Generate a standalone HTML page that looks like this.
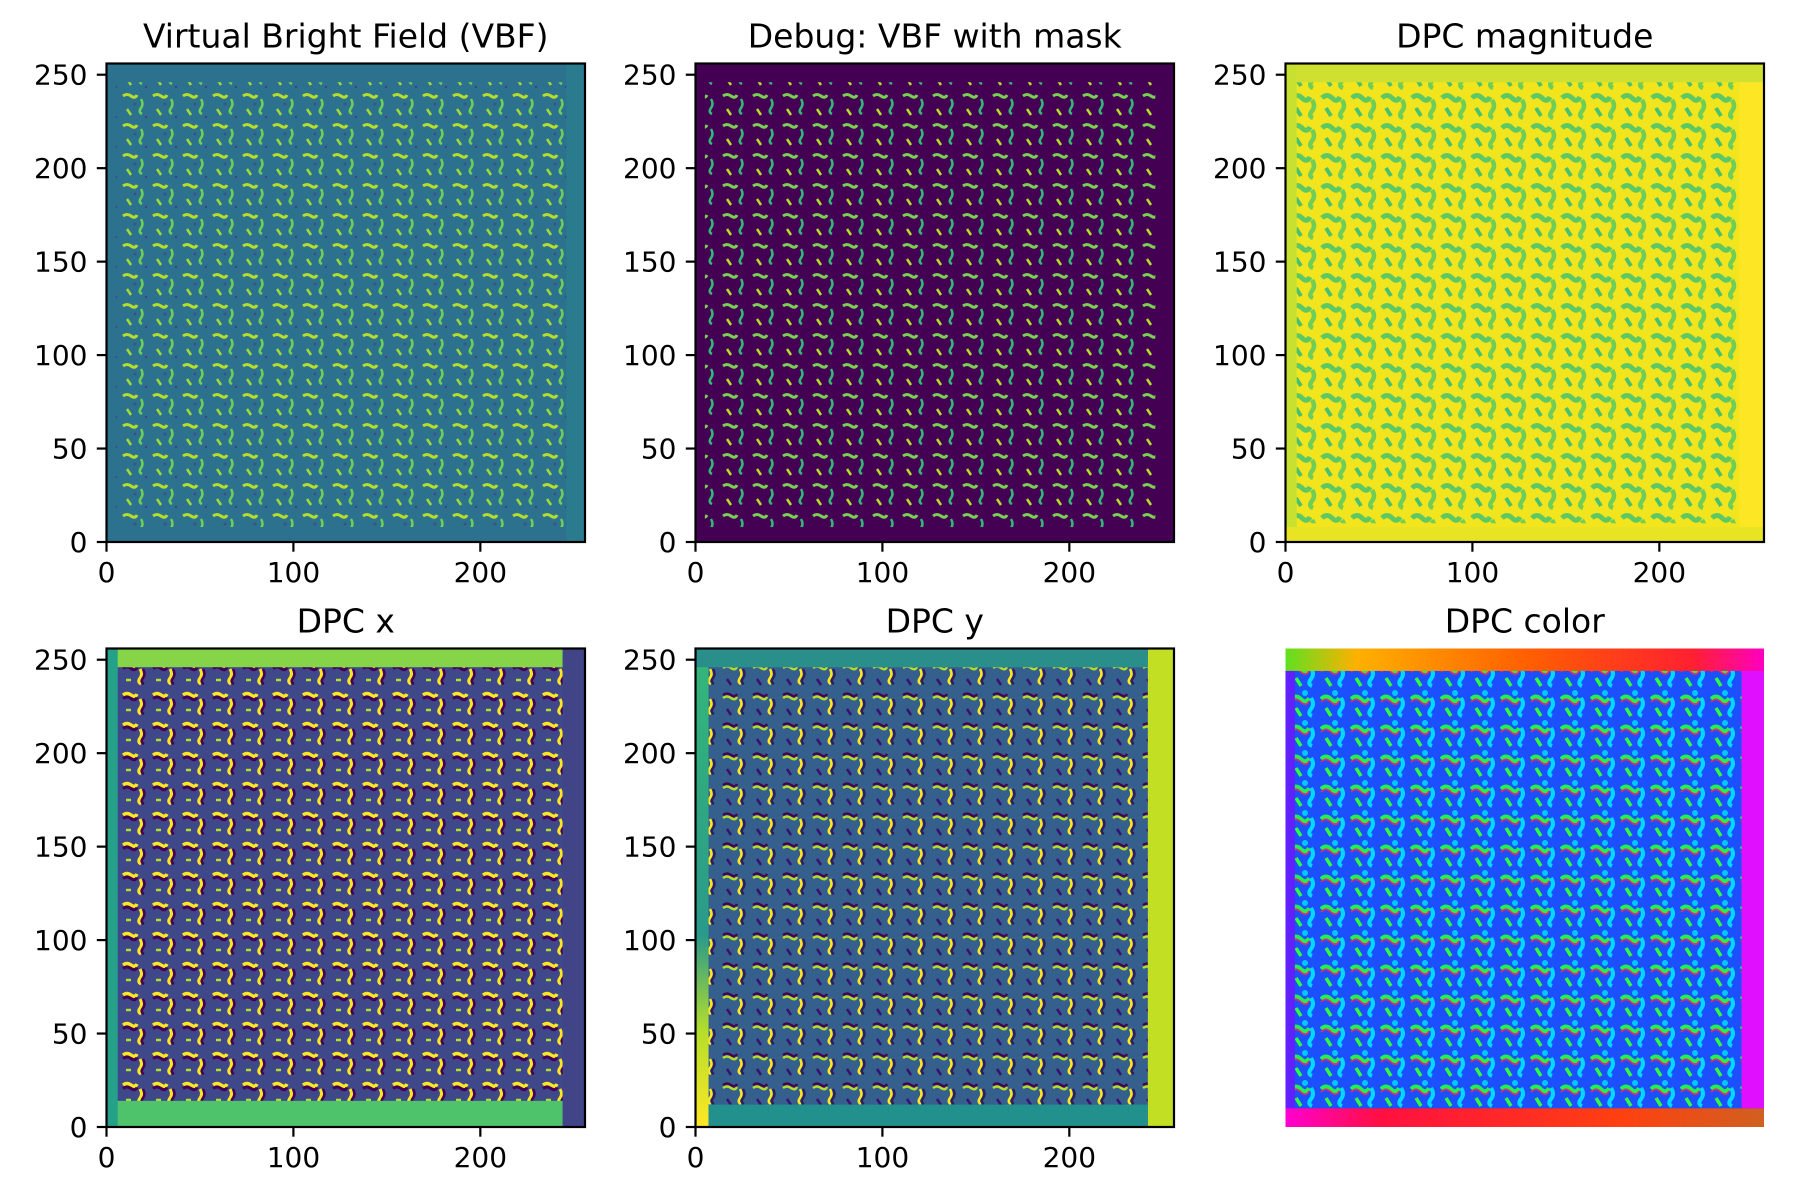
<!DOCTYPE html>
<html><head><meta charset="utf-8">
<style>
html,body{margin:0;padding:0;background:#fff;}
svg{display:block;font-family:"DejaVu Sans","Liberation Sans",sans-serif;}
</style></head>
<body>
<svg id="fig" width="1800" height="1200" viewBox="0 0 1800 1200" xmlns="http://www.w3.org/2000/svg">
<defs>
  <pattern id="pVBF" width="30" height="30" patternUnits="userSpaceOnUse">
    <path d="M3 6 q4 -3 8 0 t6 -1" stroke="#b5de2b" stroke-width="3" fill="none"/>
    <path d="M21 9 q3 5 0 9 t1 6" stroke="#6ece58" stroke-width="2.5" fill="none"/>
    <path d="M7 19 l4 6" stroke="#a0da39" stroke-width="2.5" fill="none"/>
    <circle cx="15" cy="14" r="1.5" fill="#3b528b"/>
    <circle cx="26" cy="27" r="1.2" fill="#433e85"/>
  </pattern>
  <pattern id="pMask" width="30" height="30" patternUnits="userSpaceOnUse">
    <path d="M3 6 q4 -3 8 0 t6 -1" stroke="#7ad151" stroke-width="3" fill="none"/>
    <path d="M21 9 q3 5 0 9 t1 6" stroke="#35b779" stroke-width="2.5" fill="none"/>
    <path d="M7 19 l4 6" stroke="#b5de2b" stroke-width="2.5" fill="none"/>
  </pattern>
  <pattern id="pMag" width="30" height="30" patternUnits="userSpaceOnUse">
    <path d="M2 8 q5 -5 10 0 t8 -1" stroke="#5ec962" stroke-width="5" fill="none"/>
    <path d="M22 10 q4 6 0 11 t1 7" stroke="#6ece58" stroke-width="4.5" fill="none"/>
    <path d="M6 18 l5 8" stroke="#4ac16d" stroke-width="4" fill="none"/>
  </pattern>
  <pattern id="pX" width="30" height="30" patternUnits="userSpaceOnUse">
    <path d="M3 5 q4 -3 8 0 t6 -1" stroke="#fde725" stroke-width="3.5" fill="none"/>
    <path d="M3 8.5 q4 -3 8 0 t6 -1" stroke="#440154" stroke-width="3" fill="none"/>
    <path d="M20 9 q3 5 0 9 t1 6" stroke="#fde725" stroke-width="3" fill="none"/>
    <path d="M23 9 q3 5 0 9 t1 6" stroke="#440154" stroke-width="2.5" fill="none"/>
    <path d="M6 20 l5 0" stroke="#b5de2b" stroke-width="2.5"/>
  </pattern>
  <pattern id="pY" width="30" height="30" patternUnits="userSpaceOnUse">
    <path d="M3 5 q4 -3 8 0 t6 -1" stroke="#440154" stroke-width="2.5" fill="none"/>
    <path d="M3 8 q4 -3 8 0 t6 -1" stroke="#b5de2b" stroke-width="2.5" fill="none"/>
    <path d="M20 9 q3 5 0 9 t1 6" stroke="#fde725" stroke-width="2.5" fill="none"/>
    <path d="M23 9 q3 5 0 9 t1 6" stroke="#2d1e5e" stroke-width="2.5" fill="none"/>
    <path d="M7 19 l4 6" stroke="#3b0f70" stroke-width="2.5"/>
  </pattern>
  <pattern id="pC" width="30" height="30" patternUnits="userSpaceOnUse">
    <rect width="30" height="30" fill="#1c50ff"/>
    <path d="M1 9 q5 -5 10 0 t8 -1" stroke="#20f050" stroke-width="4" fill="none"/>
    <path d="M1 12 q5 -5 10 0 t8 -1" stroke="#ff2060" stroke-width="1.5" fill="none"/>
    <path d="M21 8 q4 6 0 11 t1 7" stroke="#00d8ff" stroke-width="4" fill="none"/>
    <path d="M6 18 l5 8" stroke="#30ff40" stroke-width="3.5" fill="none"/>
    <circle cx="15" cy="3" r="3" fill="#00c8ff"/>
  </pattern>
  <linearGradient id="gTopC" x1="0" x2="1" y1="0" y2="0">
    <stop offset="0" stop-color="#60e020"/><stop offset="0.15" stop-color="#ffb000"/>
    <stop offset="0.5" stop-color="#ff6000"/><stop offset="0.85" stop-color="#ff2030"/><stop offset="1" stop-color="#ff00c0"/>
  </linearGradient>
  <linearGradient id="gBotC" x1="0" x2="1" y1="0" y2="0">
    <stop offset="0" stop-color="#ff00d0"/><stop offset="0.2" stop-color="#ff1040"/>
    <stop offset="0.7" stop-color="#ff4010"/><stop offset="1" stop-color="#d06020"/>
  </linearGradient>
  <linearGradient id="gLeftY" x1="0" x2="0" y1="0" y2="1">
    <stop offset="0" stop-color="#35b779"/><stop offset="0.6" stop-color="#2a9a8a"/><stop offset="0.8" stop-color="#b5de2b"/><stop offset="1" stop-color="#fde725"/>
  </linearGradient>
</defs>
</svg>
<script>
const panelTitles = ["Virtual Bright Field (VBF)", "Debug: VBF with mask", "DPC magnitude", "DPC x", "DPC y", "DPC color"];
const xTicks = [0, 100, 200];
const yTicks = [0, 50, 100, 150, 200, 250];
const extent = 256;
const panelNames = ["vbf", "vbf-mask", "dpc-magnitude", "dpc-x", "dpc-y", "dpc-color"];

const NS = "http://www.w3.org/2000/svg";
const svg = document.getElementById('fig');
const colX = [106.5, 695.5, 1285.5], rowY = [63.5, 648.5], W = 478.5;
function mk(tag, attrs, parent) {
  const e = document.createElementNS(NS, tag);
  for (const k in attrs) e.setAttribute(k, attrs[k]);
  parent.appendChild(e);
  return e;
}
const looks = [
  {bg:"#2c718e", regions:[[5,8,246,246,"url(#pVBF)"],[246,0,256,256,"#2a7b8e"]]},
  {bg:"#440154", regions:[[5,8,246,246,"url(#pMask)"]]},
  {bg:"#f2e51d", regions:[[5,10,245,246,"url(#pMag)"],[0,0,6,256,"#c8e030"],[243,0,256,256,"#fde725"],[0,0,256,8,"#e8e424"],[6,246,256,256,"#d0e030"]]},
  {bg:"#3f4889", regions:[[5,12,246,246,"url(#pX)"],[0,246,256,256,"#86d549"],[0,0,256,14,"#4ec36b"],[0,0,6,256,"#25a18a"],[244,0,256,256,"#414487"]]},
  {bg:"#355f8d", regions:[[5,12,244,246,"url(#pY)"],[0,0,7,256,"url(#gLeftY)"],[242,0,256,256,"#c2df23"],[0,246,242,256,"#2a8f8a"],[7,0,242,12,"#22908c"]]},
  {bg:"#1c50ff", regions:[[4,10,244,245,"url(#pC)"],[0,244,256,256,"url(#gTopC)"],[0,0,256,10,"url(#gBotC)"],[0,10,5,244,"#6020ff"],[244,10,256,244,"#e010ff"]]}
];
panelTitles.forEach((title, i) => {
  const X = colX[i % 3], Y = rowY[Math.floor(i / 3)];
  const sx = v => X + v / extent * W;
  const sy = v => Y + W - v / extent * W;
  const g = mk('g', {}, svg);
  
  
  const img = mk('g', {}, g);
  
  
  mk('rect', {x:X, y:Y, width:W, height:W, fill:looks[i].bg}, img);
  looks[i].regions.forEach(r => {
    const rr = mk('rect', {x:sx(r[0]), y:sy(r[3]), width:sx(r[2]) - sx(r[0]), height:sy(r[1]) - sy(r[3]), fill:r[4]}, img);
    
    
  });
  const t = mk('text', {x:X + W / 2, y:Y - 16, 'font-size':33, 'text-anchor':'middle', fill:'#000'}, g);
  t.textContent = title;
  
  
  if (i === 5) return;
  const sp = mk('rect', {x:X, y:Y, width:W, height:W, fill:'none', stroke:'#000', 'stroke-width':2.2}, g);
  
  
  xTicks.forEach(v => {
    const x = sx(v);
    const l = mk('line', {x1:x, x2:x, y1:Y + W, y2:Y + W + 9.7, stroke:'#000', 'stroke-width':2.2}, g);
    
    
    const tx = mk('text', {x:x, y:Y + W + 40, 'font-size':28, 'text-anchor':'middle'}, g);
    tx.textContent = v;
    
    
  });
  yTicks.forEach(v => {
    const y = sy(v);
    const l = mk('line', {x1:X - 9.7, x2:X, y1:y, y2:y, stroke:'#000', 'stroke-width':2.2}, g);
    
    
    const ty = mk('text', {x:X - 19, y:y + 10, 'font-size':28, 'text-anchor':'end'}, g);
    ty.textContent = v;
    
    
  });
});
</script>
</body></html>
